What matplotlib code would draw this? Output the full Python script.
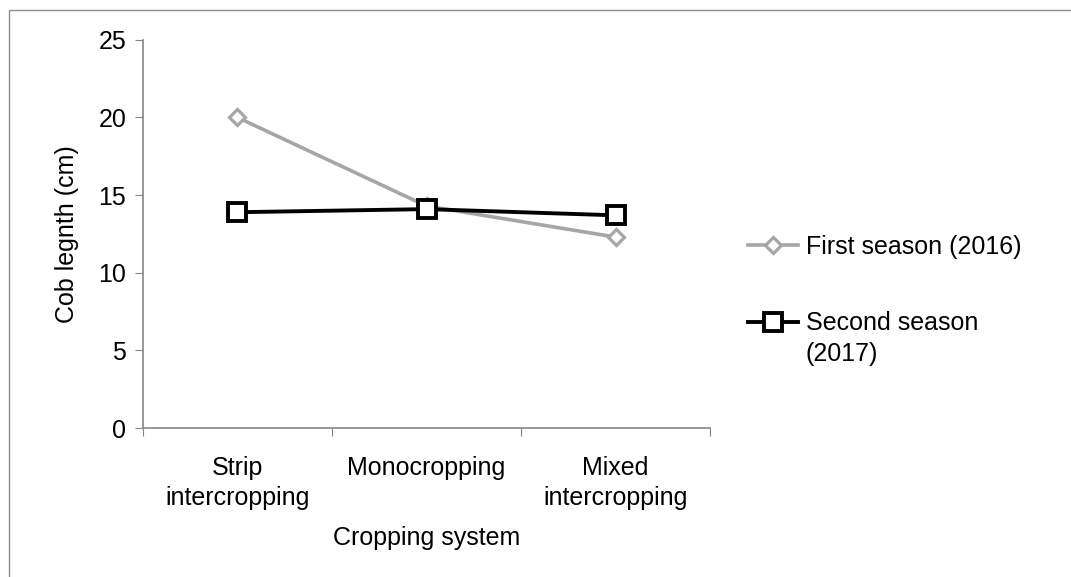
import matplotlib
matplotlib.use("Agg")
import matplotlib.pyplot as plt
from matplotlib.patches import Rectangle

plt.rcParams["font.family"] = ["Liberation Sans", "DejaVu Sans"]

categories = ["Strip\nintercropping", "Monocropping", "Mixed\nintercropping"]
first_season = [20.0, 14.3, 12.3]
second_season = [13.9, 14.1, 13.7]
labels = ["First season (2016)", "Second season"]
label_extra = "(2017)"
yticks = [0, 5, 10, 15, 20, 25]

FS = 18

fig = plt.figure(figsize=(10.71, 5.77), dpi=100)
ax = fig.add_axes([0.1335, 0.258, 0.5295, 0.673])

# outer chart-area frame (Excel style)
fig.patches.append(Rectangle((9 / 1071, -0.01), 1.02, 1 - 10 / 577 + 0.01,
                             transform=fig.transFigure, fill=False,
                             edgecolor="#8c8c8c", linewidth=1.0))

x = range(len(categories))
ax.plot(x, first_season, color="#a6a6a6", lw=2.6, marker="D", ms=8.5,
        mfc="white", mec="#a6a6a6", mew=2.3, label=labels[0], zorder=2)
ax.plot(x, second_season, color="black", lw=2.8, marker="s", ms=13,
        mfc="white", mec="black", mew=2.8, label=labels[1], zorder=3)

ax.set_xlim(-0.5, 2.5)
ax.set_ylim(0, 25)
ax.set_yticks(yticks)
ax.set_xticks([-0.5, 0.5, 1.5, 2.5])
ax.set_xticklabels([])
ax.set_xticks(list(x), minor=True)
ax.set_xticklabels(categories, minor=True, linespacing=1.3)
ax.tick_params(axis="x", which="minor", length=0, pad=20, labelsize=FS)
ax.tick_params(axis="x", which="major", length=6, color="#868686", direction="out")
ax.tick_params(axis="y", length=6, color="#868686", labelsize=FS, pad=6)

for side in ["top", "right"]:
    ax.spines[side].set_visible(False)
for side in ["left", "bottom"]:
    ax.spines[side].set_color("#868686")
    ax.spines[side].set_linewidth(1.2)

ax.set_ylabel("Cob legnth (cm)", fontsize=FS, labelpad=14)
ax.set_xlabel("Cropping system", fontsize=FS, labelpad=12)

leg = ax.legend(loc="center left", bbox_to_anchor=(1.067, 0.368), frameon=False,
                fontsize=FS, labelspacing=2.1, handlelength=2.0, handletextpad=0.3,
                borderaxespad=0, borderpad=0)

# second line of the wrapped legend label, placed under its first line
fig.canvas.draw()
bb = leg.get_texts()[1].get_window_extent().transformed(fig.transFigure.inverted())
fig.text(bb.x0, bb.y0 - 0.012, label_extra, fontsize=FS, ha="left", va="top")

fig.savefig("out.png", dpi=100, facecolor="white")
